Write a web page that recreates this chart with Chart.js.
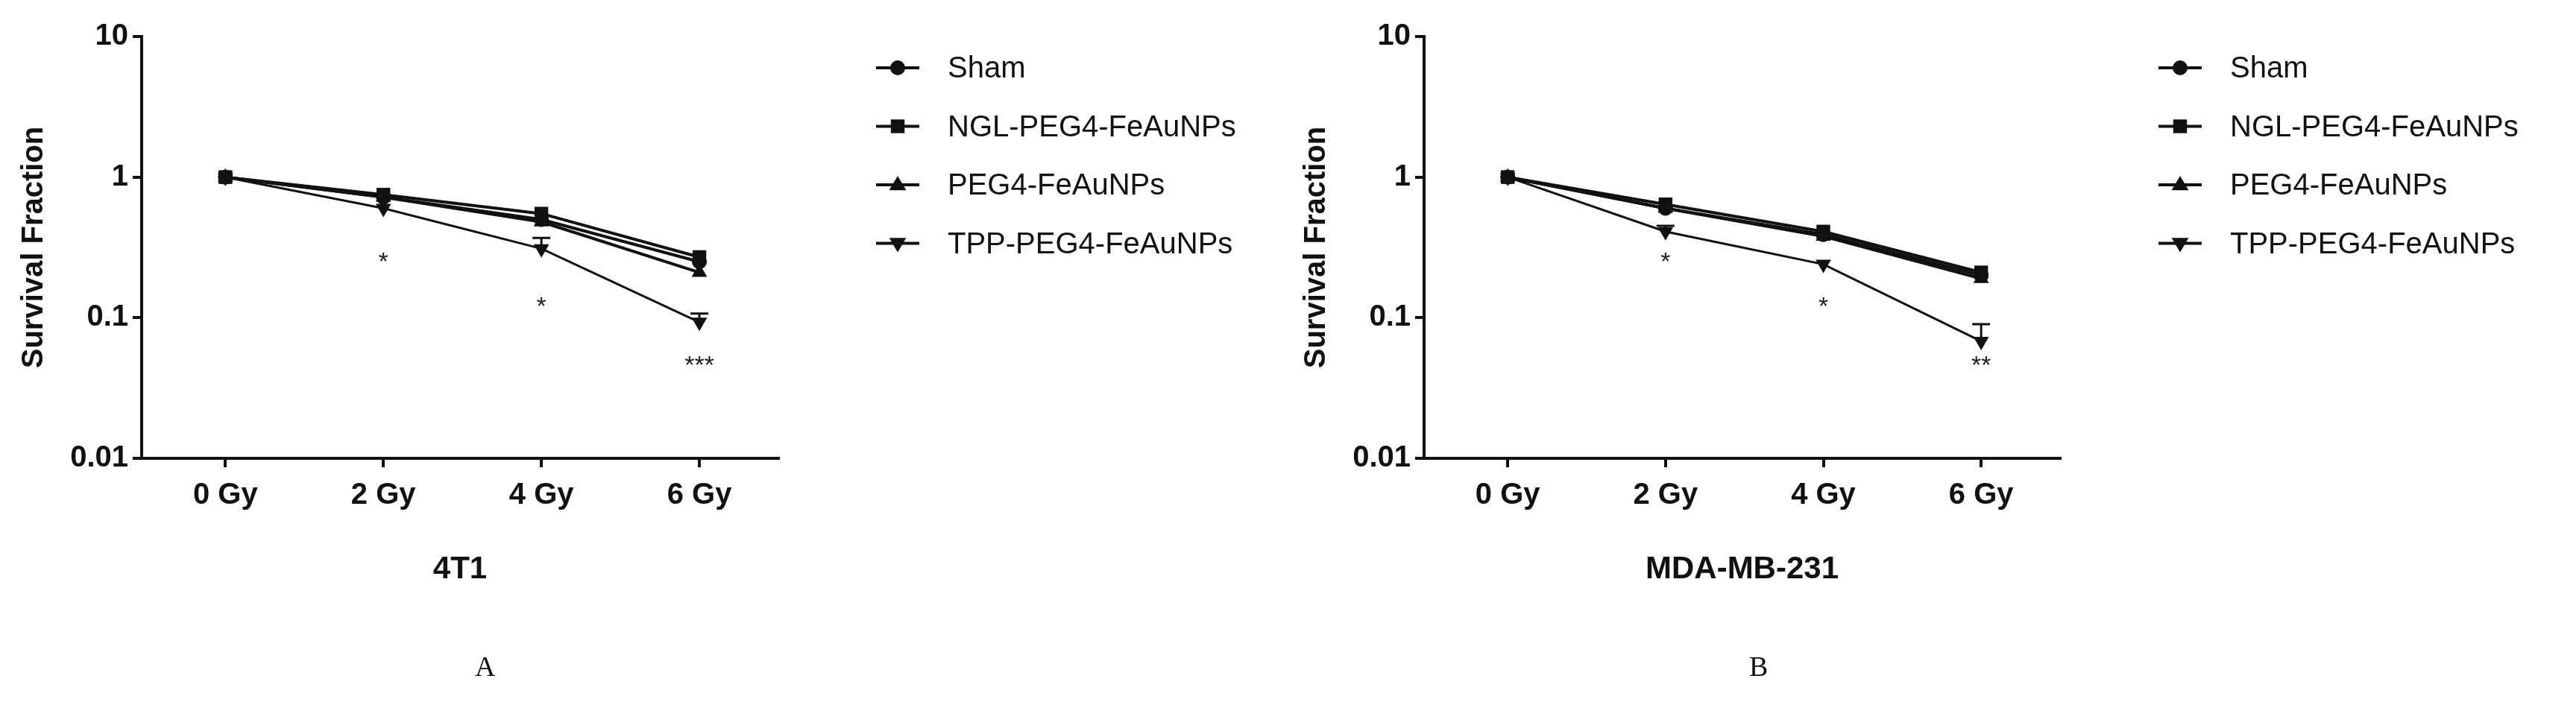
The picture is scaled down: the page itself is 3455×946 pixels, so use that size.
<!DOCTYPE html>
<html>
<head>
<meta charset="utf-8">
<script src="https://cdn.jsdelivr.net/npm/chart.js@4/dist/chart.umd.min.js"></script>
<style>
  body { margin: 0; background: #fff; width: 3455px; height: 946px; position: relative; overflow: hidden; }
  canvas { position: absolute; top: 0; }
  .panel { position: absolute; top: 872px; font: 38px "Liberation Serif", serif; color: #111; }
</style>
</head>
<body>
<canvas id="chartA" width="1720" height="946" style="left:0"></canvas>
<canvas id="chartB" width="1735" height="946" style="left:1720px"></canvas>
<div class="panel" style="left:637px">A</div>
<div class="panel" style="left:2346px">B</div>
<script>
// -------- data --------
const doseLabels = ['0 Gy', '2 Gy', '4 Gy', '6 Gy'];
const groupNames = ['Sham', 'NGL-PEG4-FeAuNPs', 'PEG4-FeAuNPs', 'TPP-PEG4-FeAuNPs'];

// 4T1
const shamA = [1, 0.72, 0.5, 0.25];
const nglA  = [1, 0.75, 0.55, 0.27];
const pegA  = [1, 0.72, 0.48, 0.21];
const tppA  = [1, 0.6, 0.31, 0.093];
const tppErrA = [null, null, 0.37, 0.107];
const starsA = ['', '*', '*', '***'];
const starYA = [null, 0.27, 0.13, 0.05];

// MDA-MB-231
const shamB = [1, 0.6, 0.39, 0.2];
const nglB  = [1, 0.64, 0.41, 0.21];
const pegB  = [1, 0.6, 0.38, 0.19];
const tppB  = [1, 0.41, 0.24, 0.068];
const tppErrB = [null, 0.45, null, 0.09];
const starsB = ['', '*', '*', '**'];
const starYB = [null, 0.27, 0.13, 0.05];

const yTicks = [0.01, 0.1, 1, 10];

const markers = [
    { style: 'circle', radius: 10, rot: 0, width: 4 },
    { style: 'rect', radius: 13, rot: 0, width: 4 },
    { style: 'triangle', radius: 12, rot: 0, width: 4 },
    { style: 'triangle', radius: 12, rot: 180, width: 3 }
];

const toXY = arr => arr.map((v, i) => ({ x: i, y: v }));

// error bars (upper only) + significance stars
const extrasPlugin = {
    id: 'extras',
    afterDatasetsDraw(chart, args, opts) {
        const { ctx, scales: { x, y } } = chart;
        ctx.save();
        ctx.strokeStyle = '#111';
        ctx.lineWidth = 3;
        opts.err.forEach((top, i) => {
            if (top == null) return;
            const px = x.getPixelForValue(i);
            ctx.beginPath();
            ctx.moveTo(px, y.getPixelForValue(opts.base[i]));
            ctx.lineTo(px, y.getPixelForValue(top));
            ctx.moveTo(px - 12, y.getPixelForValue(top));
            ctx.lineTo(px + 12, y.getPixelForValue(top));
            ctx.stroke();
        });
        ctx.fillStyle = '#222';
        ctx.font = '34px "Liberation Sans", sans-serif';
        ctx.textAlign = 'center';
        ctx.textBaseline = 'middle';
        opts.stars.forEach((s, i) => {
            if (!s) return;
            ctx.fillText(s, x.getPixelForValue(i), y.getPixelForValue(opts.starY[i]) + 8);
        });
        ctx.restore();
    }
};

function drawMarker(ctx, m, cx, cy) {
    const r = m.radius;
    ctx.beginPath();
    if (m.style === 'circle') {
        ctx.arc(cx, cy, r, 0, Math.PI * 2);
    } else if (m.style === 'rect') {
        const s = r * Math.SQRT1_2;
        ctx.rect(cx - s, cy - s, 2 * s, 2 * s);
    } else {
        const d = m.rot ? -1 : 1;
        ctx.moveTo(cx, cy - d * r);
        ctx.lineTo(cx + r * 0.95, cy + d * r * 0.6);
        ctx.lineTo(cx - r * 0.95, cy + d * r * 0.6);
        ctx.closePath();
    }
    ctx.fill();
}

const legendPlugin = {
    id: 'sideLegend',
    afterDraw(chart, args, opts) {
        const ctx = chart.ctx;
        ctx.save();
        ctx.strokeStyle = '#111';
        ctx.fillStyle = '#111';
        ctx.font = '40px "Liberation Sans", sans-serif';
        ctx.textBaseline = 'middle';
        groupNames.forEach((name, i) => {
            const yy = opts.top + i * 78.5;
            ctx.lineWidth = 4;
            ctx.beginPath();
            ctx.moveTo(opts.left, yy);
            ctx.lineTo(opts.left + 58, yy);
            ctx.stroke();
            ctx.fillStyle = '#111';
            drawMarker(ctx, markers[i], opts.left + 29, yy);
            ctx.fillText(name, opts.left + 96, yy + 2);
        });
        ctx.restore();
    }
};

function makeChart(id, series, err, stars, starY, title, rightPad) {
    const datasets = series.map((arr, i) => ({
        label: groupNames[i],
        data: toXY(arr),
        borderColor: '#111',
        backgroundColor: '#111',
        borderWidth: markers[i].width,
        pointStyle: markers[i].style,
        pointRadius: markers[i].radius,
        pointRotation: markers[i].rot,
        pointBorderWidth: 0,
        tension: 0
    }));
    return new Chart(document.getElementById(id), {
        type: 'line',
        data: { datasets },
        options: {
            responsive: false,
            animation: false,
            devicePixelRatio: 1,
            layout: { padding: { left: 22, top: 49, right: rightPad, bottom: 156 } },
            plugins: {
                legend: { display: false },
                tooltip: { enabled: false },
                extras: { err, base: series[3], stars, starY },
                sideLegend: { left: 1175, top: 91 }
            },
            scales: {
                x: {
                    type: 'linear',
                    min: -0.53,
                    max: 3.5,
                    afterBuildTicks: s => { s.ticks = doseLabels.map((_, i) => ({ value: i })); },
                    afterFit: s => { s.height = 175; },
                    border: { color: '#111', width: 4 },
                    grid: { drawOnChartArea: false, color: '#111', lineWidth: 4, tickLength: 12 },
                    ticks: {
                        color: '#111', padding: 14,
                        font: { family: 'Liberation Sans', size: 40, weight: 'bold' },
                        callback: v => doseLabels[v]
                    },
                    title: {
                        display: true, text: title, color: '#111', padding: 0,
                        font: { family: 'Liberation Sans', size: 42, weight: 'bold' }
                    }
                },
                y: {
                    type: 'logarithmic',
                    min: 0.01,
                    max: 10,
                    afterBuildTicks: s => { s.ticks = yTicks.map(v => ({ value: v })); },
                    afterFit: s => { s.width = 168; },
                    border: { color: '#111', width: 4 },
                    grid: { drawOnChartArea: false, color: '#111', lineWidth: 4, tickLength: 12 },
                    ticks: {
                        color: '#111', padding: 6,
                        font: { family: 'Liberation Sans', size: 40, weight: 'bold' },
                        callback: v => String(v)
                    },
                    title: {
                        display: true, text: 'Survival Fraction', color: '#111', padding: 0,
                        font: { family: 'Liberation Sans', size: 40, weight: 'bold' }
                    }
                }
            }
        },
        plugins: [extrasPlugin, legendPlugin]
    });
}

makeChart('chartA', [shamA, nglA, pegA, tppA], tppErrA, starsA, starYA, '4T1', 676);
makeChart('chartB', [shamB, nglB, pegB, tppB], tppErrB, starsB, starYB, 'MDA-MB-231', 692);
</script>
</body>
</html>
